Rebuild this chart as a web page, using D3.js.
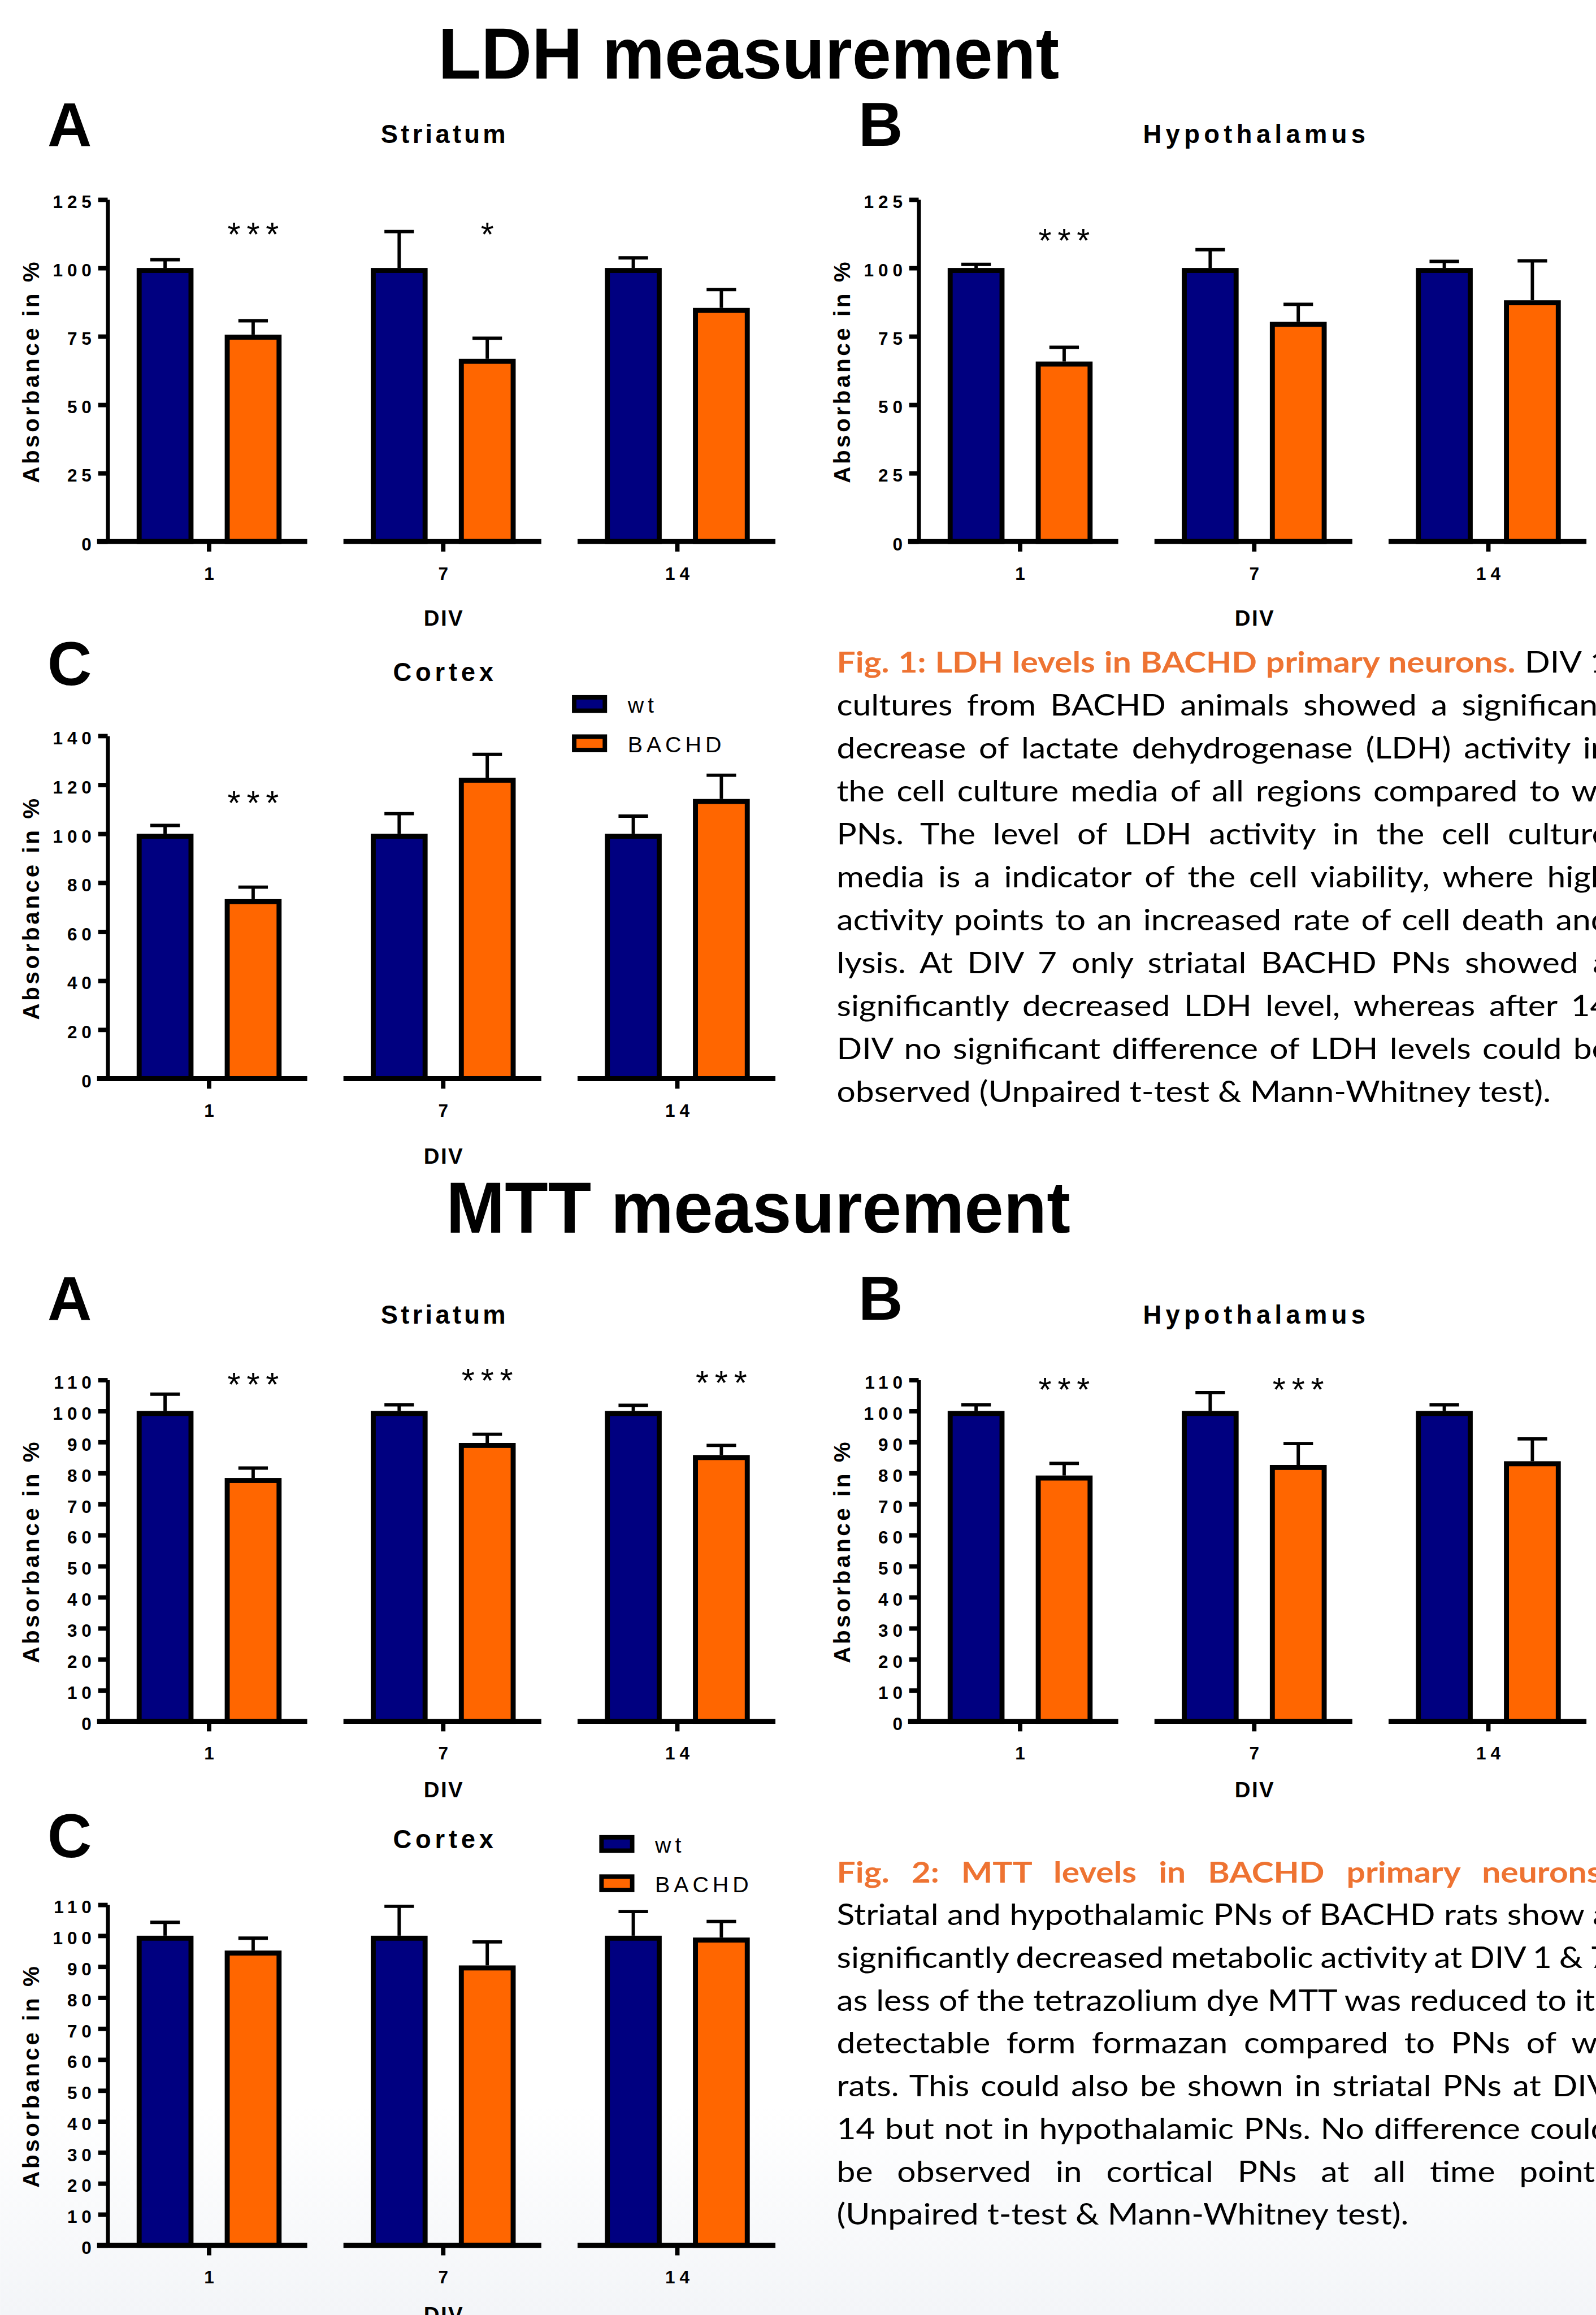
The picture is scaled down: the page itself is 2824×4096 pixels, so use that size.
<!DOCTYPE html>
<html>
<head>
<meta charset="utf-8">
<script src="https://cdn.jsdelivr.net/npm/d3@7"></script>
<style>
  body { margin: 0; background: #fff; }
  svg { display: block; }
</style>
</head>
<body>
<script>
// categories
const divDays = ["1", "7", "14"];
const groups = ["wt", "BACHD"];

// tick values per y axis
const ldhTicks = [0, 25, 50, 75, 100, 125];
const ldhCortexTicks = [0, 20, 40, 60, 80, 100, 120, 140];
const mttTicks = [0, 10, 20, 30, 40, 50, 60, 70, 80, 90, 100, 110];

// LDH - means and SEM (% of wt)
const ldhStriatumWt = [100, 100, 100];
const ldhStriatumWtSem = [3.0, 13.3, 3.7];
const ldhStriatumBachd = [75.6, 66.8, 85.4];
const ldhStriatumBachdSem = [5.1, 7.5, 6.7];
const ldhStriatumStars = ["***", "*", ""];

const ldhHypoWt = [100, 100, 100];
const ldhHypoWtSem = [1.3, 6.7, 2.4];
const ldhHypoBachd = [65.8, 80.3, 88.2];
const ldhHypoBachdSem = [5.2, 6.4, 14.4];
const ldhHypoStars = ["***", "", ""];

const ldhCortexWt = [100, 100, 100];
const ldhCortexWtSem = [3.4, 8.2, 7.2];
const ldhCortexBachd = [73.3, 122.9, 114.2];
const ldhCortexBachdSem = [4.9, 9.5, 9.7];
const ldhCortexStars = ["***", "", ""];

// MTT - means and SEM (% of wt)
const mttStriatumWt = [100, 100, 100];
const mttStriatumWtSem = [5.4, 2.0, 1.8];
const mttStriatumBachd = [78.4, 89.7, 85.8];
const mttStriatumBachdSem = [3.2, 2.8, 3.1];
const mttStriatumStars = ["***", "***", "***"];

const mttHypoWt = [100, 100, 100];
const mttHypoWtSem = [2.0, 5.9, 2.0];
const mttHypoBachd = [79.2, 82.6, 83.8];
const mttHypoBachdSem = [3.9, 6.9, 7.2];
const mttHypoStars = ["***", "***", ""];

const mttCortexWt = [100, 100, 100];
const mttCortexWtSem = [4.3, 9.5, 7.8];
const mttCortexBachd = [95.2, 90.4, 99.4];
const mttCortexBachdSem = [4.0, 7.6, 5.2];
const mttCortexStars = ["", "", ""];

// caption texts, one entry per printed line (first entry = rest of the heading line)
const fig1Heading = "Fig. 1: LDH levels in BACHD primary neurons.";
const fig1Lines = [
  "DIV 1",
  "cultures from BACHD animals showed a significant",
  "decrease of lactate dehydrogenase (LDH) activity in",
  "the cell culture media of all regions compared to wt",
  "PNs. The level of LDH activity in the cell culture",
  "media is a indicator of the cell viability, where high",
  "activity points to an increased rate of cell death and",
  "lysis. At DIV 7 only striatal BACHD PNs showed a",
  "significantly decreased LDH level, whereas after 14",
  "DIV no significant difference of LDH levels could be",
  "observed (Unpaired t-test & Mann-Whitney test)."
];
const fig2Heading = "Fig. 2: MTT levels in BACHD primary neurons.";
const fig2Lines = [
  "",
  "Striatal and hypothalamic PNs of BACHD rats show a",
  "significantly decreased metabolic activity at DIV 1 & 7",
  "as less of the tetrazolium dye MTT was reduced to its",
  "detectable form formazan compared to PNs of wt",
  "rats. This could also be shown in striatal PNs at DIV",
  "14 but not in hypothalamic PNs. No difference could",
  "be observed in cortical PNs at all time points",
  "(Unpaired t-test & Mann-Whitney test)."
];

// colours and fonts
const colWt = "#000080";
const colBachd = "#ff6600";
const colCaption = "#ee7332";
const chartFont = "'Liberation Sans', Arial, sans-serif";
const captionFont = "Lato, Carlito, 'Open Sans', sans-serif";
const colour = d3.scaleOrdinal().domain(groups).range([colWt, colBachd]);

// everything is laid out in reference pixels, the viewBox shrinks it to the window
const svg = d3.select("body").append("svg")
  .attr("width", 2824)
  .attr("height", 4096)
  .attr("viewBox", "0 0 2863 4153");

// faint grey wash at the bottom of the page
const defs = svg.append("defs");
const grad = defs.append("linearGradient").attr("id", "wash").attr("x1", 0).attr("y1", 0).attr("x2", 0).attr("y2", 1);
grad.append("stop").attr("offset", 0).attr("stop-color", "#ffffff");
grad.append("stop").attr("offset", 1).attr("stop-color", "#f3f5f8");
svg.append("rect").attr("x", 0).attr("y", 3780).attr("width", 2863).attr("height", 373).attr("fill", "url(#wash)");

// big section titles
function bigTitle(txt, x, y, w) {
  svg.append("text")
    .attr("x", x).attr("y", y)
    .attr("font-family", chartFont)
    .attr("font-weight", "bold")
    .attr("font-size", 130)
    .attr("textLength", w)
    .attr("lengthAdjust", "spacingAndGlyphs")
    .text(txt);
}
bigTitle("LDH measurement", 786, 141, 1114);
bigTitle("MTT measurement", 800, 2211, 1120);

// layout of each panel (positions only, values come from the arrays above)
const panels = [
  { letter: "A", title: "Striatum", titleW: 224, axisX: 193, yTop: 358, yZero: 971.5, max: 125, ticks: ldhTicks,
    wt: ldhStriatumWt, wtSem: ldhStriatumWtSem, bachd: ldhStriatumBachd, bachdSem: ldhStriatumBachdSem,
    stars: ldhStriatumStars, starY: [407, 407, 407], letterY: 262, titleY: 257, divY: 1122 },
  { letter: "B", title: "Hypothalamus", titleW: 399, axisX: 1648, yTop: 358, yZero: 971.5, max: 125, ticks: ldhTicks,
    wt: ldhHypoWt, wtSem: ldhHypoWtSem, bachd: ldhHypoBachd, bachdSem: ldhHypoBachdSem,
    stars: ldhHypoStars, starY: [418, 418, 418], letterY: 262, titleY: 257, divY: 1122 },
  { letter: "C", title: "Cortex", titleW: 180, axisX: 193, yTop: 1320, yZero: 1935, max: 140, ticks: ldhCortexTicks,
    wt: ldhCortexWt, wtSem: ldhCortexWtSem, bachd: ldhCortexBachd, bachdSem: ldhCortexBachdSem,
    stars: ldhCortexStars, starY: [1427, 1427, 1427], letterY: 1229, titleY: 1222, divY: 2088,
    legend: { x: 1026, y: 1247 } },
  { letter: "A", title: "Striatum", titleW: 224, axisX: 193, yTop: 2475.5, yZero: 3088, max: 110, ticks: mttTicks,
    wt: mttStriatumWt, wtSem: mttStriatumWtSem, bachd: mttStriatumBachd, bachdSem: mttStriatumBachdSem,
    stars: mttStriatumStars, starY: [2470, 2463, 2467], letterY: 2368, titleY: 2375, divY: 3224 },
  { letter: "B", title: "Hypothalamus", titleW: 399, axisX: 1648, yTop: 2475.5, yZero: 3088, max: 110, ticks: mttTicks,
    wt: mttHypoWt, wtSem: mttHypoWtSem, bachd: mttHypoBachd, bachdSem: mttHypoBachdSem,
    stars: mttHypoStars, starY: [2479, 2479, 2479], letterY: 2368, titleY: 2375, divY: 3224 },
  { letter: "C", title: "Cortex", titleW: 180, axisX: 193, yTop: 3417, yZero: 4028, max: 110, ticks: mttTicks,
    wt: mttCortexWt, wtSem: mttCortexWtSem, bachd: mttCortexBachd, bachdSem: mttCortexBachdSem,
    stars: mttCortexStars, starY: [3460, 3460, 3460], letterY: 3332, titleY: 3315, divY: 4166,
    legend: { x: 1075, y: 3292 } }
];

function drawPanel(p) {
  const g = svg.append("g").attr("font-family", chartFont);

  const y = d3.scaleLinear().domain([0, p.max]).range([p.yZero, p.yTop]);
  const x0 = d3.scaleBand().domain(divDays).range([p.axisX - 28, p.axisX + 1232]);
  const x1 = d3.scalePoint().domain(groups).range([-79, 79]);
  const cx = d => x0(d) + x0.bandwidth() / 2;

  const rows = divDays.flatMap((d, i) => [
    { day: d, grp: "wt", v: p.wt[i], e: p.wtSem[i] },
    { day: d, grp: "BACHD", v: p.bachd[i], e: p.bachdSem[i] }
  ]);
  const bx = r => cx(r.day) + x1(r.grp);

  // error bars (upper only)
  g.selectAll("line.stem").data(rows).join("line")
    .attr("class", "stem")
    .attr("x1", bx).attr("x2", bx)
    .attr("y1", r => y(r.v)).attr("y2", r => y(r.v + r.e))
    .attr("stroke", "#000").attr("stroke-width", 6);
  g.selectAll("line.cap").data(rows).join("line")
    .attr("class", "cap")
    .attr("x1", r => bx(r) - 26.5).attr("x2", r => bx(r) + 26.5)
    .attr("y1", r => y(r.v + r.e)).attr("y2", r => y(r.v + r.e))
    .attr("stroke", "#000").attr("stroke-width", 6);

  // bars, border drawn inside the bar outline
  const bw = 102, sw = 9;
  g.selectAll("rect.bar").data(rows).join("rect")
    .attr("class", "bar")
    .attr("x", r => bx(r) - bw / 2 + sw / 2)
    .attr("width", bw - sw)
    .attr("y", r => y(r.v) + sw / 2)
    .attr("height", r => y(0) - y(r.v) - sw / 2)
    .attr("fill", r => colour(r.grp))
    .attr("stroke", "#000").attr("stroke-width", sw);

  // y axis
  const ya = g.append("g")
    .attr("transform", `translate(${p.axisX},0)`)
    .call(d3.axisLeft(y).tickValues(p.ticks).tickSize(17).tickSizeOuter(0).tickPadding(12));
  ya.select(".domain").attr("stroke-width", 7);
  ya.selectAll(".tick line").attr("stroke-width", 8);
  ya.selectAll(".tick text")
    .attr("font-family", chartFont).attr("font-weight", "bold").attr("font-size", 32)
    .attr("letter-spacing", 8).attr("dx", 8).attr("dy", "0.47em");

  // x axis: broken baseline segments, one per DIV group
  g.selectAll("line.base").data(divDays).join("line")
    .attr("class", "base")
    .attr("x1", (d, i) => i === 0 ? p.axisX - 19 : cx(d) - 179)
    .attr("x2", d => cx(d) + 176)
    .attr("y1", p.yZero).attr("y2", p.yZero)
    .attr("stroke", "#000").attr("stroke-width", 9);

  const xa = g.append("g")
    .attr("transform", `translate(0,${p.yZero})`)
    .call(d3.axisBottom(x0).tickSize(18).tickPadding(28));
  xa.select(".domain").remove();
  xa.selectAll(".tick line").attr("stroke-width", 8);
  xa.selectAll(".tick text")
    .attr("font-family", chartFont).attr("font-weight", "bold").attr("font-size", 32)
    .attr("letter-spacing", 8).attr("dx", 4);

  // significance stars over the BACHD bars
  g.selectAll("text.star").data(divDays.map((d, i) => ({ d, s: p.stars[i], sy: p.starY[i] })).filter(o => o.s))
    .join("text")
    .attr("class", "star")
    .attr("x", o => cx(o.d) + x1("BACHD"))
    .attr("y", o => o.sy + 34)
    .attr("dx", 5.5)
    .attr("text-anchor", "middle")
    .attr("font-size", 60)
    .attr("letter-spacing", 11)
    .text(o => o.s);

  // axis titles
  const midY = (p.yTop + p.yZero) / 2 + 4;
  g.append("text")
    .attr("transform", `translate(${p.axisX - 123},${midY + 198}) rotate(-90)`)
    .attr("font-weight", "bold").attr("font-size", 41)
    .attr("textLength", 397).attr("lengthAdjust", "spacing")
    .text("Absorbance in %");

  g.append("text")
    .attr("x", cx("7") - 35).attr("y", p.divY)
    .attr("font-weight", "bold").attr("font-size", 39)
    .attr("textLength", 70).attr("lengthAdjust", "spacing")
    .text("DIV");

  g.append("text")
    .attr("x", cx("7") - p.titleW / 2).attr("y", p.titleY)
    .attr("font-weight", "bold").attr("font-size", 46)
    .attr("textLength", p.titleW).attr("lengthAdjust", "spacing")
    .text(p.title);

  // panel letter
  g.append("text")
    .attr("x", p.axisX - 108).attr("y", p.letterY)
    .attr("font-weight", "bold").attr("font-size", 110)
    .text(p.letter);

  // legend
  if (p.legend) {
    const lg = g.append("g").attr("transform", `translate(${p.legend.x},${p.legend.y})`);
    const items = groups.map((grp, i) => ({ grp, i }));
    lg.selectAll("rect").data(items).join("rect")
      .attr("x", 4).attr("y", d => d.i * 70.5 + 4)
      .attr("width", 55).attr("height", 24)
      .attr("fill", d => colour(d.grp))
      .attr("stroke", "#000").attr("stroke-width", 8);
    lg.selectAll("text").data(items).join("text")
      .attr("x", 100).attr("y", d => d.i * 71 + 32)
      .attr("font-size", 40)
      .attr("letter-spacing", 7)
      .text(d => d.grp);
  }
}

panels.forEach(drawPanel);

// justified caption blocks (Calibri-like text, squeezed to the measured width)
function drawCaption(heading, lines, x, y0, lineH, boxW, lastW) {
  const g = svg.append("g")
    .attr("font-family", captionFont)
    .attr("font-size", 53)
    .attr("fill", "#000");
  const texts = lines.map((t, i) => {
    const txt = g.append("text").attr("x", 0).attr("y", y0 + i * lineH);
    if (i === 0) {
      txt.append("tspan").attr("font-weight", "bold").attr("fill", colCaption).text(heading);
      if (t) txt.append("tspan").text(" " + t);
    } else {
      txt.text(t);
    }
    return txt;
  });
  const last = texts[texts.length - 1];
  const s = lastW / last.node().getComputedTextLength();
  g.attr("transform", `translate(${x},0) scale(${s},1)`);
  texts.slice(0, -1).forEach((txt, i) => {
    const content = i === 0 ? heading + (lines[0] ? " " + lines[0] : "") : lines[i];
    const k = (content.match(/ /g) || []).length;
    const n = txt.node().getComputedTextLength();
    txt.style("word-spacing", ((boxW / s - n) / k) + "px");
  });
}

drawCaption(fig1Heading, fig1Lines, 1501, 1207, 77, 1386, 1281);
drawCaption(fig2Heading, fig2Lines, 1501, 3377, 76.75, 1386, 1026);
</script>
</body>
</html>
